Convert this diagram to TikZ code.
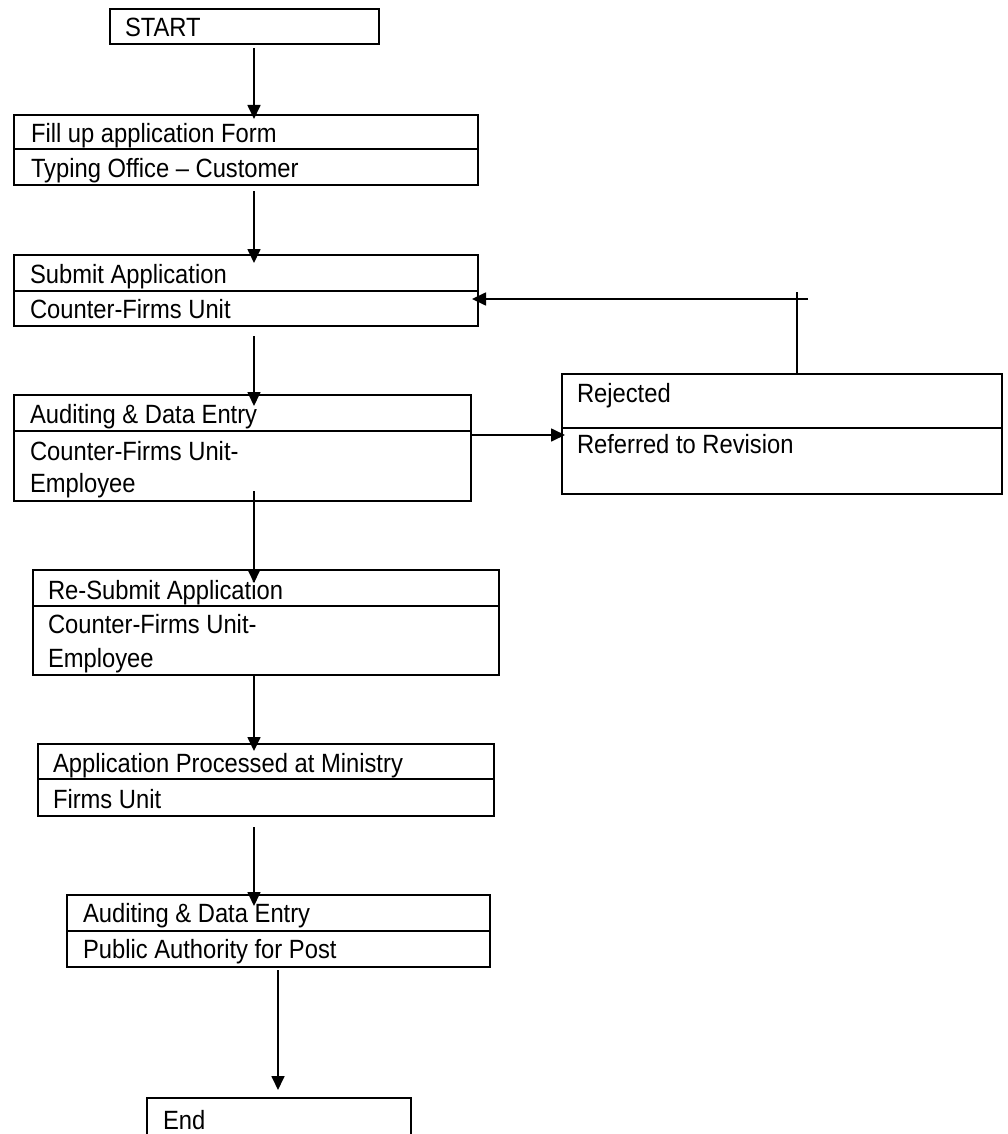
\documentclass[tikz,border=0pt]{standalone}
\usepackage{fontspec}
\setmainfont{Liberation Sans}[FakeStretch=0.9]
\usetikzlibrary{arrows.meta}
\newcommand\boxfont{\fontsize{26.4}{30}\selectfont}
\begin{document}
\begin{tikzpicture}[x=1pt,y=-1pt,
 box/.style={draw, line width=2.3pt, rectangle, inner sep=0pt, outer sep=0pt, anchor=north west},
 divline/.style={line width=2.3pt},
 txt/.style={anchor=base west, inner sep=0pt, outer sep=0pt, font=\boxfont},
 conn/.style={line width=1.7pt},
 arr/.style={conn, -{Triangle[length=14pt,width=13pt]}}]
\clip (0,0) rectangle (1007,1134);
\fill[white] (0,0) rectangle (1007,1134);
% boxes
\node[box, minimum width=269pt, minimum height=35pt] (start) at (110,9) {};
\node[box, minimum width=464pt, minimum height=70pt] (b2) at (14,115) {};
\node[box, minimum width=464pt, minimum height=71pt] (b3) at (14,255) {};
\node[box, minimum width=457pt, minimum height=106pt] (b4) at (14,395) {};
\node[box, minimum width=440pt, minimum height=120pt] (rej) at (562,374) {};
\node[box, minimum width=466pt, minimum height=105pt] (b5) at (33,570) {};
\node[box, minimum width=456pt, minimum height=72pt] (b6) at (38,744) {};
\node[box, minimum width=423pt, minimum height=72pt] (b7) at (67,895) {};
\node[box, minimum width=264pt, minimum height=60pt] (end) at (147,1098) {};
% dividers
\draw[divline] (b2.west |- 0,149) -- (b2.east |- 0,149);
\draw[divline] (b3.west |- 0,291) -- (b3.east |- 0,291);
\draw[divline] (b4.west |- 0,431) -- (b4.east |- 0,431);
\draw[divline] (rej.west |- 0,428) -- (rej.east |- 0,428);
\draw[divline] (b5.west |- 0,606) -- (b5.east |- 0,606);
\draw[divline] (b6.west |- 0,779) -- (b6.east |- 0,779);
\draw[divline] (b7.west |- 0,931) -- (b7.east |- 0,931);
% texts
\node[txt] (tstart) at (125,37) {START};
\node[txt] (t2a) at (31,143) {Fill up application Form};
\node[txt] (t2b) at (31,178) {Typing Office – Customer};
\node[txt] (t3a) at (30,283) {Submit Application};
\node[txt] (t3b) at (30,318) {Counter-Firms Unit};
\node[txt] (t4a) at (30,423) {Auditing \& Data Entry};
\node[txt] (t4b) at (30,460) {Counter-Firms Unit-};
\node[txt] (t4c) at (30,492) {Employee};
\node[txt] (tra) at (577,402) {Rejected};
\node[txt] (trb) at (577,453) {Referred to Revision};
\node[txt] (t5a) at (48,599) {Re-Submit Application};
\node[txt] (t5b) at (48,633) {Counter-Firms Unit-};
\node[txt] (t5c) at (48,667) {Employee};
\node[txt] (t6a) at (53,772) {Application Processed at Ministry};
\node[txt] (t6b) at (53,808) {Firms Unit};
\node[txt] (t7a) at (83,922) {Auditing \& Data Entry};
\node[txt] (t7b) at (83,958) {Public Authority for Post};
\node[txt] (tend) at (163,1129) {End};
% connectors
\coordinate (ax) at (254,0);
\coordinate (ax2) at (278,0);
\draw[arr, shorten <=4pt, shorten >=-4pt] (start.south -| ax) -- (b2.north -| ax);
\draw[arr, shorten <=6pt, shorten >=-8pt] (b2.south -| ax) -- (b3.north -| ax);
\draw[arr, shorten <=10pt, shorten >=-11pt] (b3.south -| ax) -- (b4.north -| ax);
\draw[arr, shorten <=-10pt, shorten >=-13pt] (b4.south -| ax) -- (b5.north -| ax);
\draw[arr, shorten >=-7pt] (b5.south -| ax) -- (b6.north -| ax);
\draw[arr, shorten <=11pt, shorten >=-11pt] (b6.south -| ax) -- (b7.north -| ax);
\draw[arr, shorten <=3pt, shorten >=8pt] (b7.south -| ax2) -- (end.north -| ax2);
\coordinate (hy) at (0,435);
\draw[arr, shorten >=-3pt] (b4.east |- hy) -- (rej.west |- hy);
\coordinate (fbtop) at (797,292);
\coordinate (fbend) at (808,299);
\draw[conn] (rej.north -| fbtop) -- (fbtop);
\draw[arr, shorten >=-6pt] (fbend) -- (b3.east |- fbend);
\end{tikzpicture}
\end{document}
